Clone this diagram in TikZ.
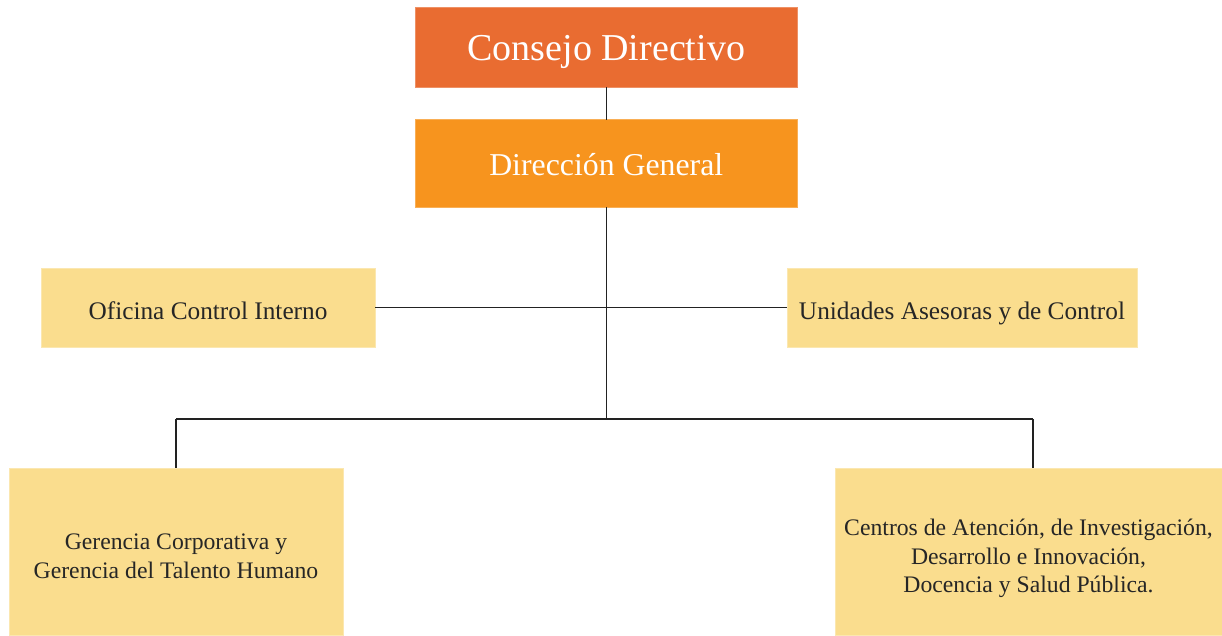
\documentclass[tikz,border=0pt]{standalone}
\usepackage{fontspec}
\setmainfont{Liberation Serif}
\definecolor{cdred}{HTML}{E96C31}
\definecolor{dgorange}{HTML}{F7941E}
\definecolor{unityellow}{HTML}{FADD8E}
\definecolor{txtdark}{HTML}{262626}
\definecolor{linedark}{HTML}{222222}
\begin{document}
\begin{tikzpicture}[x=1pt,y=1pt,
  topbox/.style={rectangle, inner sep=0pt, outer sep=0pt, text=white, align=center},
  unitbox/.style={rectangle, inner sep=0pt, outer sep=0pt, fill=unityellow, draw=unityellow!70!white, line width=0.8pt, text=txtdark, align=center},
  unittext/.style={inner sep=0pt, text=txtdark, align=center, font=\fontsize{23.7}{28.5}\selectfont},
  conn/.style={draw=linedark, line width=1.3pt}
]
\useasboundingbox (0,0) rectangle (1222,-635);
\fill[white] (0,0) rectangle (1222,-635);

\node[topbox, fill=cdred, draw=cdred!75!white, line width=0.8pt, minimum width=381.5pt, minimum height=79.5pt,
  text height=30pt, text depth=4.5pt,
  font=\fontsize{38}{44}\selectfont] (cd) at (606.25,-47.25) {Consejo Directivo};
\node[topbox, fill=dgorange, draw=dgorange!75!white, line width=0.8pt, minimum width=381.5pt, minimum height=87.5pt,
  text height=26pt, text depth=2.5pt,
  font=\fontsize{31.8}{37}\selectfont] (dg) at (606.25,-163.25) {Dirección General};

\node[unitbox, minimum width=334pt, minimum height=79pt, text height=25pt, text depth=2pt,
  font=\fontsize{25.3}{30}\selectfont] (oci) at (208,-307.5) {Oficina Control Interno};
\node[unitbox, minimum width=350pt, minimum height=79pt, text height=25pt, text depth=2pt,
  font=\fontsize{25.3}{30}\selectfont] (uac) at (962,-307.5) {Unidades Asesoras y de Control};

\node[unitbox, minimum width=334pt, minimum height=167pt] (gc) at (176,-551.5) {};
\node[unittext] (gct) at ([yshift=-5pt]gc.center) {Gerencia Corporativa y\\Gerencia del Talento Humano};
\node[unitbox, minimum width=387pt, minimum height=167pt] (ca) at (1028.5,-551.5) {};
\node[unittext] (cat) at ([yshift=-7pt]ca.center) {Centros de Atención, de Investigación,\\Desarrollo e Innovación,\\Docencia y Salud Pública.};

\coordinate (bus) at (606.25,-419);
\coordinate (busL) at (176,-419);
\coordinate (busR) at (1033,-419);

\draw[conn] (cd.south) -- (dg.north);
\draw[conn] (dg.south) -- (bus);
\draw[conn] (oci.east) -- (uac.west);
\draw[conn] (busL) -- (busR);
\draw[conn] (busL) -- (gc.north);
\draw[conn] (busR) -- (busR |- ca.north);
\end{tikzpicture}
\end{document}
